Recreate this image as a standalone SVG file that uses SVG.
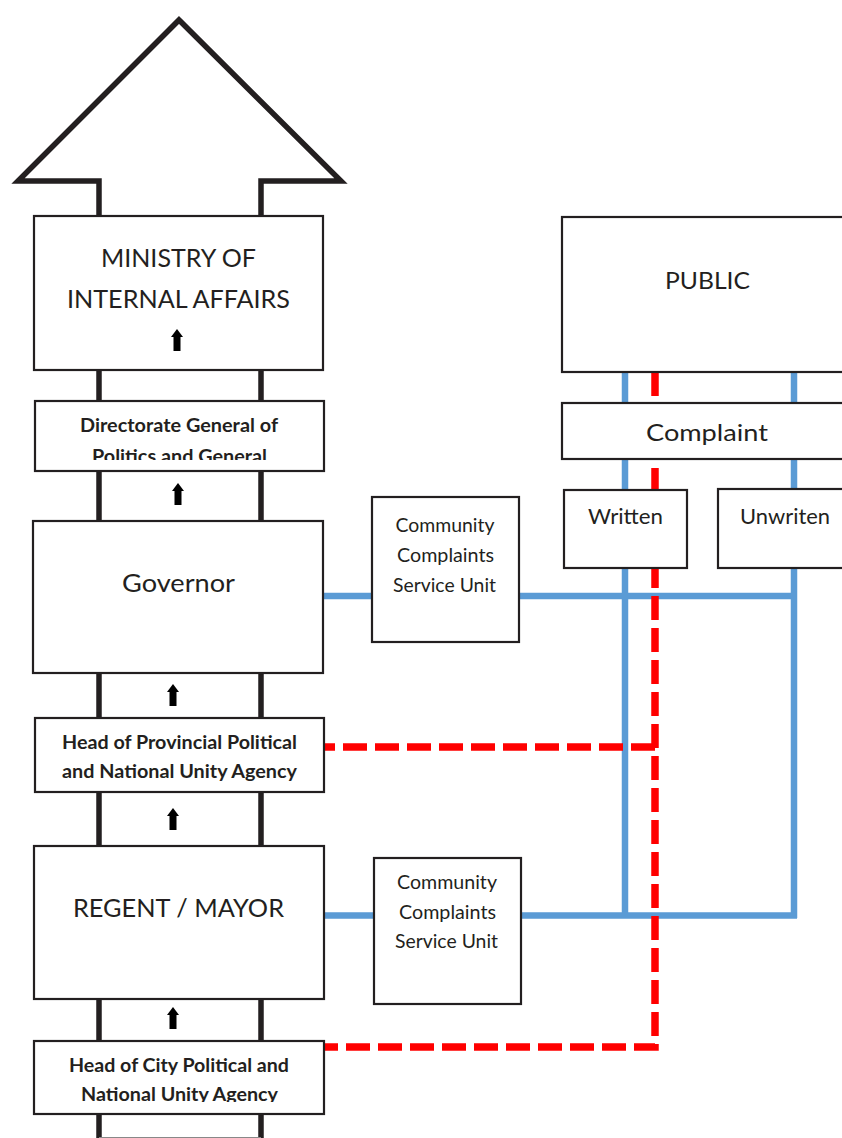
<svg xmlns="http://www.w3.org/2000/svg" xmlns:xlink="http://www.w3.org/1999/xlink" width="842" height="1138" viewBox="0 0 842 1138">
<style>
.box{fill:#fff;stroke:#231f20;stroke-width:2.2}
.col{fill:none;stroke:#231f20;stroke-width:5.5}
.blue{fill:none;stroke:#5b9bd5;stroke-width:6.5}
.red{fill:none;stroke:#ff0000;stroke-width:7.5;stroke-dasharray:24 8}
text{font-family:Lato,"Open Sans","Liberation Sans",sans-serif;fill:#231f20;text-anchor:middle}
.big{font-size:25px}
.mid{font-size:24px}
.bold{font-size:18px;font-weight:bold}
.small{font-size:19px}
.w{font-size:21px}
.arr{fill:#000}
</style>
<defs>
<path id="uparrow" d="M0,0 L6,8 L3.5,8 L3.5,22 L-3.5,22 L-3.5,8 L-6,8 Z"/>
<clipPath id="clipDir"><rect x="0" y="400" width="340" height="60"/></clipPath>
<clipPath id="clipProv"><rect x="0" y="700" width="340" height="81"/></clipPath>
<clipPath id="clipCity"><rect x="0" y="1030" width="340" height="72"/></clipPath>
</defs>

<g id="connectors">
<path id="big-arrow" class="col" style="stroke-linejoin:miter" d="M99,216 L99,181 L18,181 L179,20 L341,181 L261,181 L261,216"/>
<path class="col" d="M99,216 V1138 M261,216 V1138"/>
<path d="M99,1137.5 H261" stroke="#888" stroke-width="1" fill="none"/>
<path class="blue" d="M323,596 H372 M519,596 H797 M625,372 V918 M794,372 V918 M324,915.5 H374 M521,915.5 H797"/>
<path class="red" d="M655,372 V1047 H325"/>
<path class="red" d="M655,747 H325"/>
</g>

<g id="ministry">
<rect class="box" x="34" y="216" width="289" height="154"/>
<text class="big" x="178.5" y="267" textLength="155" lengthAdjust="spacingAndGlyphs">MINISTRY OF</text>
<text class="big" x="178.5" y="308" textLength="223" lengthAdjust="spacingAndGlyphs">INTERNAL AFFAIRS</text>
<use href="#uparrow" class="arr" x="177" y="329"/>
</g>

<g id="directorate">
<rect class="box" x="35" y="401" width="289" height="70"/>
<g clip-path="url(#clipDir)">
<text class="bold" x="179" y="432" textLength="198" lengthAdjust="spacingAndGlyphs">Directorate General of</text>
<text class="bold" x="179.5" y="463" textLength="175" lengthAdjust="spacingAndGlyphs">Politics and General</text>
</g>
</g>
<use href="#uparrow" class="arr" x="178" y="483"/>

<g id="governor">
<rect class="box" x="33" y="521" width="290" height="152"/>
<text class="big" x="178.5" y="592" textLength="113" lengthAdjust="spacingAndGlyphs">Governor</text>
</g>
<use href="#uparrow" class="arr" x="173" y="684"/>

<g id="head-provincial">
<rect class="box" x="35" y="718" width="289" height="74"/>
<g clip-path="url(#clipProv)">
<text class="bold" x="179.5" y="749" textLength="235" lengthAdjust="spacingAndGlyphs">Head of Provincial Political</text>
<text class="bold" x="179.5" y="778" textLength="235" lengthAdjust="spacingAndGlyphs">and National Unity Agency</text>
</g>
</g>
<use href="#uparrow" class="arr" x="173" y="808"/>

<g id="regent-mayor">
<rect class="box" x="34" y="846" width="290" height="153"/>
<text class="big" x="178.5" y="917" textLength="211" lengthAdjust="spacingAndGlyphs">REGENT / MAYOR</text>
</g>
<use href="#uparrow" class="arr" x="173" y="1007"/>

<g id="head-city">
<rect class="box" x="34" y="1041" width="290" height="73"/>
<g clip-path="url(#clipCity)">
<text class="bold" x="179" y="1072" textLength="220" lengthAdjust="spacingAndGlyphs">Head of City Political and</text>
<text class="bold" x="179.5" y="1101" textLength="197" lengthAdjust="spacingAndGlyphs">National Unity Agency</text>
</g>
</g>

<g id="ccsu-1">
<rect class="box" x="372" y="497" width="147" height="145"/>
<text class="small" x="445" y="532" textLength="99" lengthAdjust="spacingAndGlyphs">Community</text>
<text class="small" x="445.5" y="562" textLength="97" lengthAdjust="spacingAndGlyphs">Complaints</text>
<text class="small" x="444.5" y="592" textLength="103" lengthAdjust="spacingAndGlyphs">Service Unit</text>
</g>

<g id="ccsu-2">
<rect class="box" x="374" y="858" width="147" height="146"/>
<text class="small" x="447" y="889" textLength="100" lengthAdjust="spacingAndGlyphs">Community</text>
<text class="small" x="447.5" y="919" textLength="97" lengthAdjust="spacingAndGlyphs">Complaints</text>
<text class="small" x="446.5" y="948" textLength="103" lengthAdjust="spacingAndGlyphs">Service Unit</text>
</g>

<g id="public">
<rect class="box" x="562" y="217" width="300" height="155"/>
<text class="mid" x="707.5" y="289" textLength="85" lengthAdjust="spacingAndGlyphs">PUBLIC</text>
</g>

<g id="complaint">
<rect class="box" x="562" y="403" width="300" height="56"/>
<text class="mid" x="707" y="441" textLength="122" lengthAdjust="spacingAndGlyphs">Complaint</text>
</g>

<g id="written">
<rect class="box" x="564" y="490" width="123" height="78"/>
<text class="w" x="625.5" y="524" textLength="75" lengthAdjust="spacingAndGlyphs">Written</text>
</g>

<g id="unwriten">
<rect class="box" x="718" y="489" width="150" height="79"/>
<text class="w" x="785" y="524" textLength="90" lengthAdjust="spacingAndGlyphs">Unwriten</text>
</g>
</svg>
